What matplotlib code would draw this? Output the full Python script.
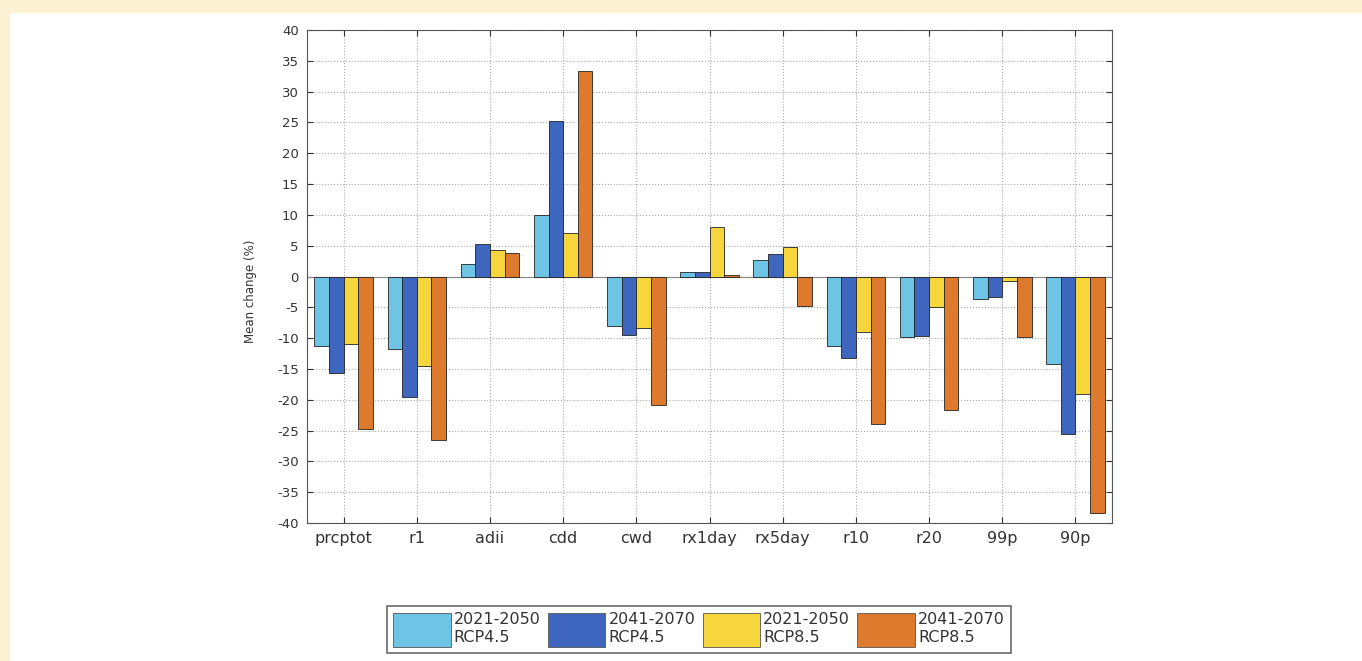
import matplotlib
matplotlib.use("Agg")
import matplotlib.pyplot as plt
import numpy as np
from matplotlib.patches import Rectangle, Patch

categories = ["prcptot", "r1", "adii", "cdd", "cwd", "rx1day", "rx5day", "r10", "r20", "99p", "90p"]
rcp45_2021_2050 = [-11.2, -11.8, 2.0, 10.0, -8.0, 0.8, 2.7, -11.3, -9.8, -3.7, -14.2]
rcp45_2041_2070 = [-15.7, -19.5, 5.2, 25.3, -9.5, 0.8, 3.6, -13.3, -9.6, -3.4, -25.5]
rcp85_2021_2050 = [-11.0, -14.5, 4.3, 7.0, -8.3, 8.0, 4.8, -9.0, -5.0, -0.8, -19.0]
rcp85_2041_2070 = [-24.7, -26.5, 3.8, 33.3, -20.8, 0.3, -4.8, -24.0, -21.6, -9.8, -38.3]
series_labels = ["2021-2050\nRCP4.5", "2041-2070\nRCP4.5", "2021-2050\nRCP8.5", "2041-2070\nRCP8.5"]
colors = ["#6DC4E4", "#3F66BE", "#F6D63C", "#DE7A2E"]
yticks = list(range(-40, 45, 5))

W, H = 1362, 661
fig = plt.figure(figsize=(W / 100, H / 100), dpi=100)
fig.patch.set_facecolor("white")
cream = "#FDF1D3"
fig.add_artist(Rectangle((0, 1 - 12 / H), 1, 12 / H, transform=fig.transFigure, color=cream, zorder=-10))
fig.add_artist(Rectangle((0, 0), 9 / W, 1, transform=fig.transFigure, color=cream, zorder=-10))

left, right, top, bottom = 307, 1112, 30, 523
ax = fig.add_axes([left / W, 1 - bottom / H, (right - left) / W, (bottom - top) / H])

series = [rcp45_2021_2050, rcp45_2041_2070, rcp85_2021_2050, rcp85_2041_2070]
x = np.arange(1, len(categories) + 1)
bw = 0.2
for i, (vals, c) in enumerate(zip(series, colors)):
    ax.bar(x + (i - 1.5) * bw, vals, width=bw, color=c, edgecolor="#222222", linewidth=0.6, zorder=3)

txtc = "#333333"
ax.set_xlim(0.5, len(categories) + 0.5)
ax.set_ylim(-40, 40)
ax.set_yticks(yticks)
ax.set_yticklabels([str(t) for t in yticks], fontsize=9.5, color=txtc)
ax.set_xticks(x)
ax.set_xticklabels(categories, fontsize=11.5, color=txtc)
ax.set_ylabel("Mean change (%)", fontsize=8.5, color=txtc, labelpad=10)
ax.yaxis.set_label_coords(-0.062, 0.47)
ax.grid(True, linestyle=":", color="#aaaaaa", linewidth=0.8, zorder=0)
ax.axhline(0, color="#888888", linewidth=0.8, zorder=2)
ax.tick_params(axis="both", direction="in", length=4, width=0.8, colors="#333333", top=True, right=True)
ax.tick_params(axis="y", pad=6)
ax.tick_params(axis="x", pad=6)
for s in ax.spines.values():
    s.set_color("#555555")
    s.set_linewidth(0.8)

handles = [Patch(facecolor=c, edgecolor="#555555", linewidth=0.6) for c in colors]
leg = fig.legend(handles, series_labels, loc="center", bbox_to_anchor=(699 / W, 1 - 629.5 / H),
                 ncol=4, fontsize=11.5, frameon=True, fancybox=False, edgecolor="#444444",
                 handlelength=3.6, handleheight=2.9, handletextpad=0.2, columnspacing=0.45,
                 borderpad=0.4, labelspacing=0.2)
leg.get_frame().set_linewidth(1.2)
for t in leg.get_texts():
    t.set_color(txtc)

fig.savefig("out.png", dpi=100, facecolor=fig.get_facecolor())
